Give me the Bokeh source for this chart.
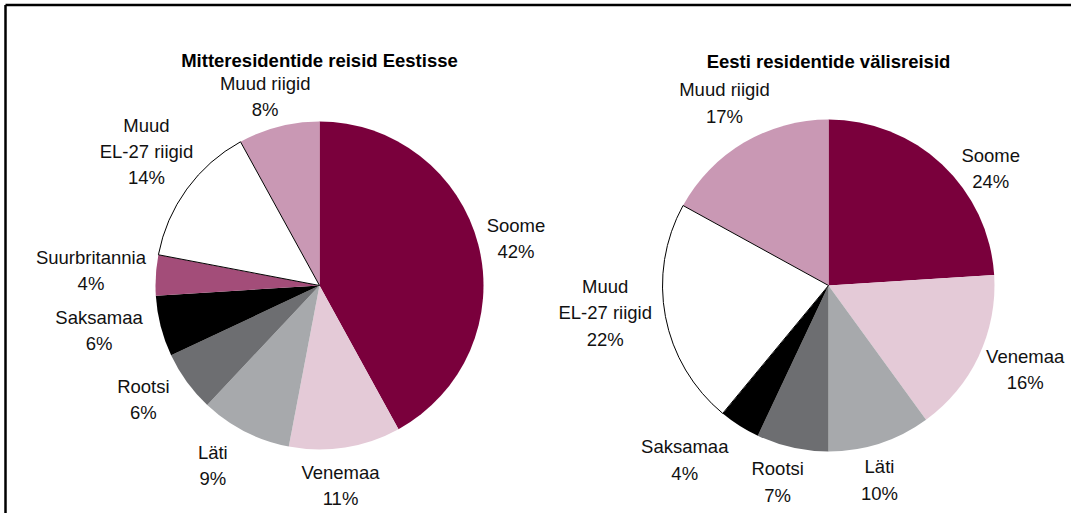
import numpy as np
from bokeh.plotting import figure
from bokeh.models import Range1d, ColumnDataSource
from bokeh.core.properties import value
from bokeh.embed import file_html
from bokeh.resources import INLINE

# ---------------- data ----------------
title_left = "Mitteresidentide reisid Eestisse"
cats_left = ["Soome", "Venemaa", "Läti", "Rootsi", "Saksamaa", "Suurbritannia",
             "Muud\nEL-27 riigid", "Muud riigid"]
vals_left = [42, 11, 9, 6, 6, 4, 14, 8]

title_right = "Eesti residentide välisreisid"
cats_right = ["Soome", "Venemaa", "Läti", "Rootsi", "Saksamaa",
              "Muud\nEL-27 riigid", "Muud riigid"]
vals_right = [24, 16, 10, 7, 4, 22, 17]

# ---------------- styles / layout ----------------
colors = {
    "Soome": "#7a003c",
    "Venemaa": "#e4cad7",
    "Läti": "#a7a9ac",
    "Rootsi": "#6d6e71",
    "Saksamaa": "#000000",
    "Suurbritannia": "#a34d79",
    "Muud\nEL-27 riigid": "#ffffff",
    "Muud riigid": "#c998b4",
}
FONT = "Liberation Sans"
FS = "18.5px"

# pie layout in pixels (x from left, y from top)
left_layout = dict(cx=319, cy=285, r=164, title_y=60,
                   lab_dist=[202, 201, 209, 210, 225, 229, 219, 197],
                   lab_shift=[1, 3, 3.7, 3, 2.9, 0.1, 1.8, -1.6])
right_layout = dict(cx=828, cy=285, r=166, title_y=61,
                    lab_dist=[200, 214, 201, 203, 226, 225, 210],
                    lab_shift=[11, -2.0, 3.3, 1.9, 7.1, 3.8, 0.9])

W, H = 1071, 513
PAGE_H = 529
p = figure(width=W, height=H, x_range=Range1d(0, W), y_range=Range1d(PAGE_H - H, PAGE_H),
           output_backend="svg", toolbar_location=None, min_border=0)
p.axis.visible = False
p.grid.visible = False
p.outline_line_color = None
p.background_fill_color = "white"
p.border_fill_color = "white"


def Y(y):
    return PAGE_H - y


# frame (top and left edges visible)
p.line([5, W], [Y(4.5), Y(4.5)], line_color="black", line_width=2.5)
p.line([5, 5], [Y(4.5), Y(PAGE_H)], line_color="black", line_width=2.5)


def draw_pie(title, cats, vals, lay):
    vals = np.array(vals, dtype=float)
    frac = vals / vals.sum()
    cum = np.cumsum(frac)
    prev = cum - frac
    start = np.pi / 2 - 2 * np.pi * prev
    end = np.pi / 2 - 2 * np.pi * cum
    cx, cy, r = lay["cx"], Y(lay["cy"]), lay["r"]
    src = ColumnDataSource(dict(start=start, end=end, color=[colors[c] for c in cats],
                                x=[cx] * len(cats), y=[cy] * len(cats)))
    p.wedge(x="x", y="y", radius=r, start_angle="start", end_angle="end", direction="clock",
            fill_color="color", line_color=None, source=src)
    # outline for white slice
    for i, c in enumerate(cats):
        if colors[c] == "#ffffff":
            p.wedge(x=cx, y=cy, radius=r, start_angle=start[i], end_angle=end[i], direction="clock",
                    fill_color="white", line_color="black", line_width=1)
    # labels
    mid = np.degrees(2 * np.pi * (prev + frac / 2)) + np.array(lay["lab_shift"])
    d = np.array(lay["lab_dist"], dtype=float)
    lx = cx + d * np.sin(np.radians(mid))
    ly = cy + d * np.cos(np.radians(mid))
    texts = [f"{c}\n{int(v)}%" for c, v in zip(cats, vals)]
    p.text(x=lx, y=ly, text=texts, text_align="center", text_baseline="middle",
           text_font=value(FONT), text_font_size=FS, text_color="#111111", text_line_height=1.25)
    p.text(x=[cx], y=[Y(lay["title_y"])], text=[title], text_align="center", text_baseline="middle",
           text_font=value(FONT), text_font_size=FS, text_font_style="bold", text_color="black")


draw_pie(title_left, cats_left, vals_left, left_layout)
draw_pie(title_right, cats_right, vals_right, right_layout)

open("out.html", "w").write(file_html(p, INLINE))
